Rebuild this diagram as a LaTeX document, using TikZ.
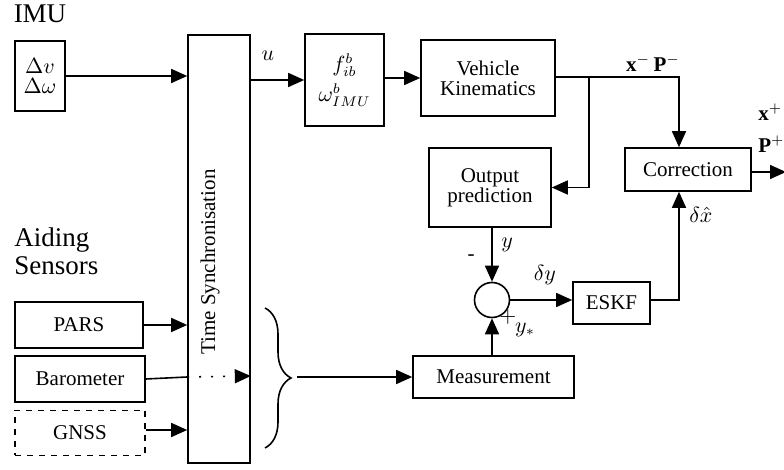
\documentclass[tikz,border=0pt]{standalone}
\usepackage{fontspec}
\setmainfont{Liberation Serif}
\usetikzlibrary{arrows.meta,decorations.pathreplacing}

\tikzset{
  blk/.style={draw,thick,align=center,inner sep=0pt,font=\fontsize{10.5}{12}\selectfont},
  lbl/.style={inner sep=0pt,font=\fontsize{10.5}{12}\selectfont},
  sig/.style={thick,-{Triangle[length=8pt,width=7pt]}},
}

\begin{document}
\begin{tikzpicture}[x=0.5pt,y=-0.5pt]
\useasboundingbox (0,0) rectangle (784,470);

% sensors
\node[lbl,font=\fontsize{13.5}{15}\selectfont] (imu) at (40,14) {IMU};
\node[blk,minimum width=25pt,minimum height=35pt] (dv) at (40,76) {$\Delta v$\\[-2pt]$\Delta\omega$};
\node[lbl,font=\fontsize{13.5}{14}\selectfont,align=left,anchor=west] (aid) at (14,251) {Aiding\\Sensors};
\node[blk,minimum width=64pt,minimum height=23pt] (pars) at (79,325) {PARS};
\node[blk,minimum width=65pt,minimum height=23pt] (baro) at (80,379) {Barometer};
\node[blk,dashed,minimum width=65pt,minimum height=22.5pt] (gnss) at (80,433) {GNSS};

% synchronisation
\node[blk,minimum width=31pt,minimum height=214pt] (sync) at (219,249) {};
\node[lbl,rotate=90] (synctxt) at (210,262) {Time Synchronisation};

% filter blocks
\node[blk,minimum width=39.5pt,minimum height=46pt] (fb) at (344.5,80) {$f^b_{ib}$\\[3pt]$\omega^b_{IMU}$};
\node[blk,minimum width=67pt,minimum height=38pt] (veh) at (488,78) {Vehicle\\[-2pt]Kinematics};
\node[blk,minimum width=61pt,minimum height=39.5pt] (outp) at (490,187.5) {Output\\[-2pt]prediction};
\node[blk,minimum width=63pt,minimum height=21.5pt] (corr) at (688,169.5) {Correction};
\node[draw,thick,circle,minimum size=17.5pt,inner sep=0pt] (sum) at (492,300) {};
\node[blk,minimum width=38.5pt,minimum height=21pt] (eskf) at (611.5,303) {ESKF};
\node[blk,minimum width=80.5pt,minimum height=21pt] (meas) at (493.5,377) {Measurement};

\coordinate (jn) at (679,77);
\coordinate (br) at (589,77);
\coordinate (out) at (786,172);
\coordinate (brc) at (297,377);

% connections
\draw[sig] (dv.east) -- (dv.east -| sync.west);
\draw[sig] (pars.east) -- (pars.east -| sync.west);
\draw[thick] (baro.east) -- (sync.west |- 0,377);
\draw[thick,dash pattern=on 1pt off 5pt,-{Triangle[length=8pt,width=7pt]}] (sync.west |- 0,377) -- (sync.east |- 0,376);
\draw[sig] (gnss.east |- 0,430) -- (sync.west |- 0,430);
\draw[sig] (sync.east |- fb.west) -- (fb.west);
\draw[sig] (fb.east |- 0,78) -- (veh.west |- 0,78);
\draw[sig] (veh.east |- jn) -- (jn) -- (jn |- corr.north);
\draw[sig] (br) |- (outp.east);
\draw[sig] (corr.east |- out) -- (out);
\draw[sig] (sum.north |- outp.south) -- (sum.north);
\draw[sig] (sum.south |- meas.north) -- (sum.south);
\draw[sig] (sum.east) -- (sum.east -| eskf.west);
\draw[sig] (eskf.east |- sum.east) -| (jn |- corr.south);
\draw[thick,decorate,decoration={brace,amplitude=13pt}] (265,308) -- (265,448);
\draw[sig] (brc) -- (meas.west);

% signal labels
\node[lbl] (ul) at (268,56) {$u$};
\node[lbl] (xm) at (653,63) {$\mathbf{x}^-\,\mathbf{P}^-$};
\node[lbl,anchor=west] (xp) at (758,112) {$\mathbf{x}^+$};
\node[lbl,anchor=west] (pp) at (758,144) {$\mathbf{P}^+$};
\node[lbl,anchor=west] (dx) at (689,215) {$\delta\hat{x}$};
\node[lbl,anchor=west] (yl) at (501,245) {$y$};
\node[lbl] (mn) at (471,258) {-};
\node[lbl] (dy) at (545,275) {$\delta y$};
\node[lbl] (pl) at (508,317) {$+$};
\node[lbl] (ys) at (525,330) {$y_*$};
\end{tikzpicture}
\end{document}
